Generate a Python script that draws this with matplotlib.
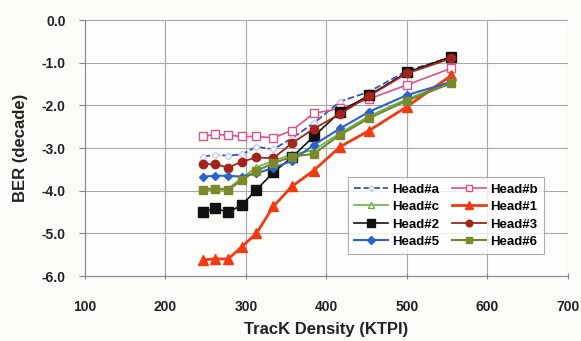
import matplotlib.pyplot as plt

plt.rcParams['font.family'] = ['Liberation Sans', 'DejaVu Sans']
plt.rcParams['font.weight'] = 'bold'

# track density points (KTPI), same for every head
ktpi = [247, 262, 278, 295, 313, 334, 357, 384, 417, 453, 500, 555]

head_a = [-3.20, -3.16, -3.18, -3.15, -2.97, -3.03, -2.77, -2.42, -1.91, -1.68, -1.19, -0.87]
head_b = [-2.73, -2.68, -2.70, -2.73, -2.73, -2.76, -2.59, -2.19, -2.07, -1.85, -1.52, -1.13]
head_c = [-3.95, -3.95, -3.95, -3.70, -3.45, -3.30, -3.15, -3.05, -2.65, -2.25, -1.85, -1.45]
head_1 = [-5.62, -5.60, -5.60, -5.31, -5.00, -4.37, -3.90, -3.53, -2.97, -2.59, -2.03, -1.30]
head_2 = [-4.49, -4.41, -4.51, -4.33, -3.98, -3.57, -3.22, -2.73, -2.15, -1.76, -1.23, -0.86]
head_3 = [-3.38, -3.38, -3.46, -3.32, -3.22, -3.24, -2.89, -2.55, -2.20, -1.78, -1.25, -0.90]
head_5 = [-3.67, -3.65, -3.65, -3.67, -3.59, -3.47, -3.30, -2.93, -2.54, -2.15, -1.76, -1.45]
head_6 = [-3.98, -3.97, -3.98, -3.75, -3.53, -3.36, -3.20, -3.14, -2.69, -2.30, -1.89, -1.48]

xticks = [100, 200, 300, 400, 500, 600, 700]
yticks = [0.0, -1.0, -2.0, -3.0, -4.0, -5.0, -6.0]

fig = plt.figure(figsize=(5.81, 3.41), dpi=100)
fig.patch.set_facecolor('#fbfbf7')
ax = fig.add_axes([0.1463, 0.1906, 0.8313, 0.7507])
ax.set_facecolor('#fdfdfb')

la, = ax.plot(ktpi, head_a, '--', color='#3a4fc0', lw=1.3, marker='D', ms=3.5,
              mfc='white', mec='#c8cce8', label='Head#a')
lb, = ax.plot(ktpi, head_b, '-', color='#e0508c', lw=1.2, marker='s', ms=6,
              mfc='white', mec='#e0508c', label='Head#b')
lc, = ax.plot(ktpi, head_c, '-', color='#6ab04a', lw=1.2, marker='^', ms=5,
              mfc='white', mec='#6ab04a', label='Head#c')
l1, = ax.plot(ktpi, head_1, '-', color='#f23a12', lw=2.0, marker='^', ms=6.5,
              mfc='#f23a12', mec='#f23a12', label='Head#1')
l2, = ax.plot(ktpi, head_2, '-', color='#111111', lw=1.2, marker='s', ms=7.5,
              mfc='#111111', mec='#111111', label='Head#2')
l3, = ax.plot(ktpi, head_3, '-', color='#a3241c', lw=1.3, marker='o', ms=6,
              mfc='#a3241c', mec='#a3241c', label='Head#3')
l5, = ax.plot(ktpi, head_5, '-', color='#2a62d0', lw=1.5, marker='D', ms=4.5,
              mfc='#2a62d0', mec='#2a62d0', label='Head#5')
l6, = ax.plot(ktpi, head_6, '-', color='#6e8a22', lw=1.5, marker='s', ms=5.5,
              mfc='#7a8a2a', mec='#7a8a2a', label='Head#6')

ax.set_xlim(100, 700)
ax.set_ylim(-6.0, 0.0)
ax.set_xticks(xticks)
ax.set_yticks(yticks)
ax.set_yticklabels([f'{v:.1f}' for v in yticks])
ax.grid(True, color='#a8a8a8', lw=0.8)
ax.set_axisbelow(True)

for side in ('top', 'right'):
    ax.spines[side].set_visible(False)
for side in ('left', 'bottom'):
    ax.spines[side].set_color('#888888')

ax.tick_params(axis='both', labelsize=10, colors='#222222', length=4, color='#888888')
ax.tick_params(axis='x', direction='inout', pad=15)
ax.tick_params(axis='y', pad=10)

ax.set_xlabel('TracK Density (KTPI)', fontsize=12, fontweight='bold', color='#222222', labelpad=6)
ax.set_ylabel('BER (decade)', fontsize=12, fontweight='bold', color='#222222', labelpad=10)

# column-wise fill gives the row order a,b / c,1 / 2,3 / 5,6
handles = [la, lc, l2, l5, lb, l1, l3, l6]
leg = ax.legend(handles=handles, labels=[h.get_label() for h in handles],
                ncol=2, loc='lower left', bbox_to_anchor=(0.53, 0.06),
                fontsize=9.5, frameon=True, fancybox=False, edgecolor='#999999',
                handlelength=2.6, columnspacing=1.0, handletextpad=0.3,
                borderpad=0.45, labelspacing=0.4, markerscale=0.8)
leg.get_frame().set_linewidth(0.8)
for t in leg.get_texts():
    t.set_fontweight('bold')

fig.savefig('out.png', dpi=100, facecolor=fig.get_facecolor())
